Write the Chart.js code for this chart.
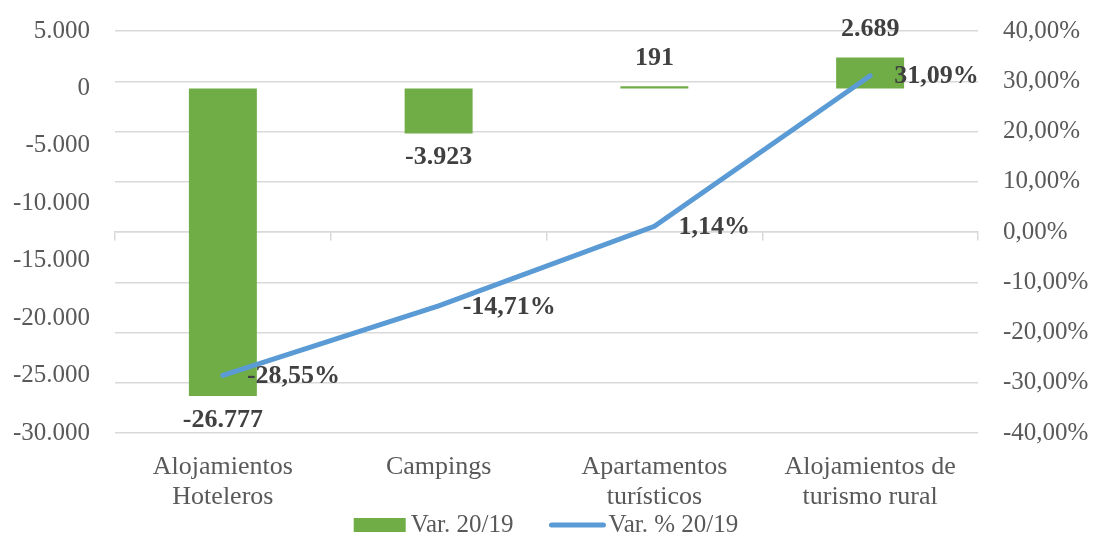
<!DOCTYPE html>
<html>
<head>
<meta charset="utf-8">
<script src="https://cdn.jsdelivr.net/npm/chart.js@4/dist/chart.umd.min.js"></script>
<style>
  html, body { margin: 0; padding: 0; background: #fff; }
  #wrap { width: 1095px; height: 536px; }
</style>
</head>
<body>
<div id="wrap"><canvas id="graficoVariacion"></canvas></div>
<script>
const categorias = [['Alojamientos', 'Hoteleros'], 'Campings', ['Apartamentos', 'turísticos'], ['Alojamientos de', 'turismo rural']];
const variacion = [-26777, -3923, 191, 2689];
const variacionPct = [-28.55, -14.71, 1.14, 31.09];
const ticksIzq = [5000, 0, -5000, -10000, -15000, -20000, -25000, -30000];
const ticksDer = [40, 30, 20, 10, 0, -10, -20, -30, -40];

const VERDE = '#70AD47';
const AZUL = '#5B9BD5';
const GRIS = '#595959';
const FUENTE = '"Liberation Serif", serif';

// formato español: miles con punto, decimales con coma
function miles(v) {
  const s = Math.abs(Math.round(v)).toString().replace(/\B(?=(\d{3})+(?!\d))/g, '.');
  return (v < 0 ? '-' : '') + s;
}
function pct(v) {
  return v.toFixed(2).replace('.', ',') + '%';
}

// etiquetas de datos
const etiquetas = {
  id: 'etiquetas',
  afterDatasetsDraw(chart) {
    const ctx = chart.ctx;
    ctx.save();
    ctx.font = 'bold 26px ' + FUENTE;
    ctx.fillStyle = '#404040';
    ctx.textBaseline = 'middle';
    ctx.textAlign = 'center';
    chart.getDatasetMeta(0).data.forEach((b, i) => {
      const v = variacion[i];
      ctx.fillText(miles(v), b.x, v < 0 ? b.y + 24 : b.y - 28);
    });
    ctx.textAlign = 'left';
    chart.getDatasetMeta(1).data.forEach((p, i) => {
      ctx.fillText(pct(variacionPct[i]), p.x + 24, p.y + 1);
    });
    ctx.restore();
  }
};

// leyenda al pie, dibujada con los colores de cada serie
const leyenda = {
  id: 'leyenda',
  afterDraw(chart) {
    const ctx = chart.ctx;
    const [barras, linea] = chart.data.datasets;
    ctx.save();
    ctx.font = '25px ' + FUENTE;
    ctx.textBaseline = 'middle';
    const w1 = ctx.measureText(barras.label).width;
    const w2 = ctx.measureText(linea.label).width;
    const total = 52 + 5 + w1 + 36 + 56 + 3 + w2;
    let x = 546 - total / 2;
    const y = 525;
    ctx.fillStyle = barras.backgroundColor;
    ctx.fillRect(x, y - 7, 52, 14);
    x += 57;
    ctx.fillStyle = GRIS;
    ctx.fillText(barras.label, x, y);
    x += w1 + 36;
    ctx.strokeStyle = linea.borderColor;
    ctx.lineWidth = linea.borderWidth;
    ctx.lineCap = 'round';
    ctx.beginPath();
    ctx.moveTo(x + 2, y);
    ctx.lineTo(x + 54, y);
    ctx.stroke();
    x += 59;
    ctx.fillText(linea.label, x, y);
    ctx.restore();
  }
};

Chart.defaults.font.family = FUENTE;

new Chart(document.getElementById('graficoVariacion'), {
  data: {
    labels: categorias,
    datasets: [{
      type: 'bar',
      label: 'Var. 20/19',
      data: variacion,
      yAxisID: 'y',
      backgroundColor: VERDE,
      borderWidth: 0,
      categoryPercentage: 1,
      barPercentage: 0.315,
      order: 1
    }, {
      type: 'line',
      label: 'Var. % 20/19',
      data: variacionPct,
      yAxisID: 'y1',
      borderColor: AZUL,
      backgroundColor: AZUL,
      borderWidth: 5,
      borderCapStyle: 'round',
      pointRadius: 0,
      tension: 0,
      order: 0
    }]
  },
  options: {
    responsive: true,
    maintainAspectRatio: false,
    animation: false,
    devicePixelRatio: 1,
    layout: { padding: { top: 31, left: 0, right: 0, bottom: 0 } },
    plugins: {
      tooltip: { enabled: false },
      legend: { display: false }
    },
    scales: {
      x: {
        offset: true,
        grid: { display: false, drawTicks: false },
        border: { display: false },
        ticks: { color: GRIS, font: { size: 26, lineHeight: 1.154 }, padding: 19, maxRotation: 0, autoSkip: false },
        afterFit: s => { s.height = 103; }
      },
      x0: {
        axis: 'x',
        type: 'category',
        position: { y1: 0 },
        offset: true,
        grid: { offset: true, drawOnChartArea: false, drawTicks: true, tickLength: 8, color: '#D9D9D9', lineWidth: 1.5 },
        border: { display: true, color: '#D9D9D9', width: 1.5 },
        ticks: { display: false }
      },
      y: {
        position: 'left',
        min: -30000,
        max: 5000,
        grid: { display: false, drawTicks: true, tickLength: 25 },
        border: { display: false },
        afterBuildTicks: s => { s.ticks = ticksIzq.map(v => ({ value: v })); },
        ticks: { color: GRIS, font: { size: 25 }, padding: 0, callback: v => miles(v) },
        afterFit: s => { s.width = 115; }
      },
      y1: {
        position: 'right',
        min: -40,
        max: 40,
        grid: { color: '#D9D9D9', lineWidth: 1.5, drawTicks: true, tickLength: 25, tickColor: 'rgba(0,0,0,0)' },
        border: { display: false },
        afterBuildTicks: s => { s.ticks = ticksDer.map(v => ({ value: v })); },
        ticks: { color: GRIS, font: { size: 25 }, padding: 0, callback: v => pct(v) },
        afterFit: s => { s.width = 117; }
      }
    }
  },
  plugins: [etiquetas, leyenda]
});
</script>
</body>
</html>
